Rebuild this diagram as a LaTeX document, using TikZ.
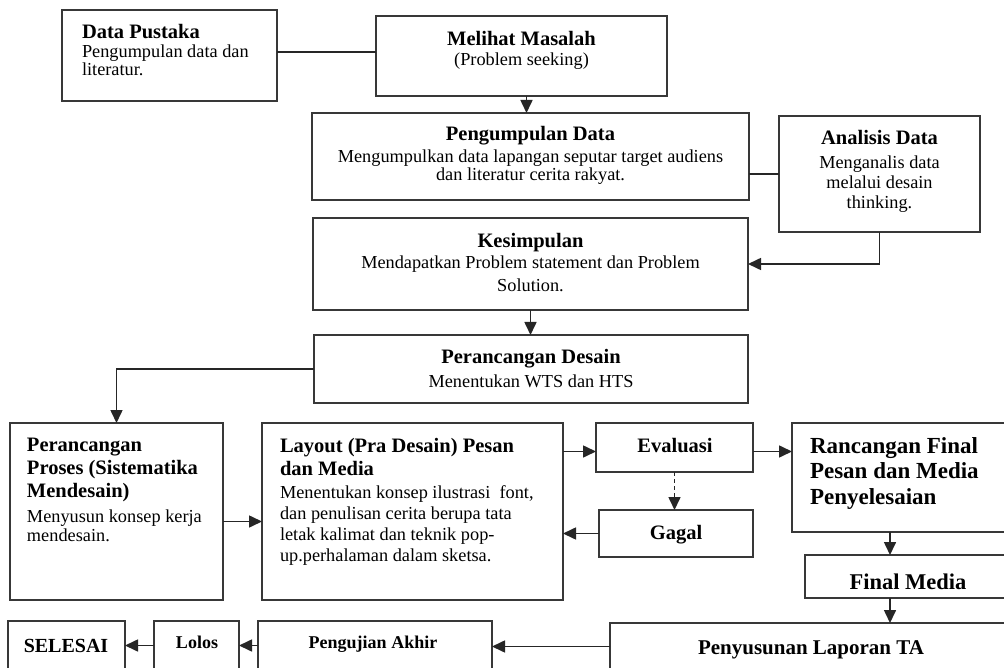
\documentclass[tikz,border=0pt]{standalone}
\usepackage{fontspec}
\setmainfont{Liberation Serif}
\usetikzlibrary{arrows.meta}
\tikzset{
  box/.style={draw=black!78, line width=1.3pt, rectangle, inner sep=0pt, outer sep=0pt, anchor=north west},
  conn/.style={draw=black!85, line width=1.6pt},
  arr/.style={conn, -{Triangle[length=13pt,width=12pt]}},
  ttl/.style={inner sep=0pt, outer sep=0pt, font=\fontsize{20.5}{23}\selectfont\bfseries},
  bdy/.style={inner sep=0pt, outer sep=0pt, font=\fontsize{18.3}{19}\selectfont},
}
\newcommand\bsk[1]{\fontsize{18.3}{#1}\selectfont}
\begin{document}
\begin{tikzpicture}[x=1pt,y=-1pt]
\fill[white] (0,0) rectangle (1004,668);
\useasboundingbox (0,0) rectangle (1004,668);

% boxes
\node[box, minimum width=215pt, minimum height=91pt] (dp) at (62,10) {};
\node[box, minimum width=291pt, minimum height=80pt] (mm) at (376,16) {};
\node[box, minimum width=437pt, minimum height=87pt] (pd) at (312,113) {};
\node[box, minimum width=201pt, minimum height=116pt] (ad) at (779,116) {};
\node[box, minimum width=435pt, minimum height=92pt] (ks) at (313,218) {};
\node[box, minimum width=434pt, minimum height=68pt] (pdes) at (314,335) {};
\node[box, minimum width=213pt, minimum height=177pt] (pp) at (10,423) {};
\node[box, minimum width=301pt, minimum height=177pt] (lay) at (262,423) {};
\node[box, minimum width=157pt, minimum height=49pt] (ev) at (596,423) {};
\node[box, minimum width=154pt, minimum height=47pt] (gg) at (599,510) {};
\node[box, minimum width=230pt, minimum height=109pt] (rf) at (792,423) {};
\node[box, minimum width=217pt, minimum height=43pt] (fm) at (805,555) {};
\node[box, minimum width=412pt, minimum height=47pt] (pl) at (610,623) {};
\node[box, minimum width=234pt, minimum height=49pt] (pa) at (258,621) {};
\node[box, minimum width=85pt, minimum height=49pt] (lo) at (154,621) {};
\node[box, minimum width=117pt, minimum height=49pt] (se) at (8,621) {};

% texts
\node[ttl, anchor=base west] (dpt) at (82,39) {Data Pustaka};
\node[bdy, anchor=north west, align=left, font=\bsk{17.5}] (dpb) at (82,45) {Pengumpulan data dan\\literatur.};

\node[ttl, anchor=base] (mmt) at (521.5,46) {Melihat Masalah};
\node[bdy, anchor=base] (mmb) at (521.5,66) {(Problem seeking)};

\node[ttl, anchor=base] (pdt) at (530.5,141) {Pengumpulan Data};
\node[bdy, anchor=north, align=center, font=\bsk{18.5}] (pdb) at (530.5,149.5) {Mengumpulkan data lapangan seputar target audiens\\dan literatur cerita rakyat.};

\node[ttl, anchor=base] (adt) at (879.5,145) {Analisis Data};
\node[bdy, anchor=north, align=center, font=\bsk{20}] (adb) at (879.5,155.5) {Menganalis data\\melalui desain\\thinking.};

\node[ttl, anchor=base] (kst) at (530.5,248) {Kesimpulan};
\node[bdy, anchor=north, align=center, font=\bsk{23}] (ksb) at (530.5,255.5) {Mendapatkan Problem statement dan Problem\\Solution.};

\node[ttl, anchor=base] (pdest) at (531,363) {Perancangan Desain};
\node[bdy, anchor=base] (pdesb) at (531,387) {Menentukan WTS dan HTS};

\node[ttl, anchor=north west, align=left] (ppt) at (27,438.5) {Perancangan\\Proses (Sistematika\\Mendesain)};
\node[bdy, anchor=north west, align=left, font=\bsk{19}] (ppb) at (27,509.5) {Menyusun konsep kerja\\mendesain.};

\node[ttl, anchor=north west, align=left] (layt) at (280,438) {Layout (Pra Desain) Pesan\\dan Media};
\node[bdy, anchor=north west, align=left, font=\bsk{21}] (layb) at (280,485.5) {Menentukan konsep ilustrasi~ font,\\dan penulisan cerita berupa tata\\letak kalimat dan teknik pop-\\up.perhalaman dalam sketsa.};

\node[ttl, anchor=base] (evt) at (675,452) {Evaluasi};
\node[ttl, anchor=base] (ggt) at (676,539) {Gagal};

\node[ttl, anchor=north west, align=left, font=\fontsize{23}{25.5}\selectfont\bfseries] (rft) at (810,437.5) {Rancangan Final\\Pesan dan Media\\Penyelesaian};
\node[ttl, anchor=base, font=\fontsize{22.5}{25}\selectfont\bfseries] (fmt) at (908,589) {Final Media};
\node[ttl, anchor=base, font=\fontsize{21}{24}\selectfont\bfseries] (plt) at (811,654) {Penyusunan Laporan TA};
\node[ttl, anchor=base, font=\fontsize{18}{21}\selectfont\bfseries] (pat) at (373,648) {Pengujian Akhir};
\node[ttl, anchor=base, font=\fontsize{18}{21}\selectfont\bfseries] (lot) at (197,648) {Lolos};
\node[ttl, anchor=base, font=\fontsize{20}{23}\selectfont\bfseries] (set) at (66,652) {SELESAI};

% connectors
\draw[conn] ([yshift=3.5pt]dp.east) -- ([yshift=3.5pt]dp.east -| mm.west);
\draw[arr] ([xshift=5pt]mm.south) -- ([xshift=5pt]mm.south |- pd.north);
\draw[conn] (ad.west) -- (ad.west -| pd.east);
\draw[arr] (ad.south) |- (ks.east);
\draw[arr] (ks.south) -- (ks.south |- pdes.north);
\draw[arr] (pdes.west) -| (pp.north);
\draw[arr] ([yshift=-10pt]pp.east) -- ([yshift=-10pt]pp.east -| lay.west);
\draw[arr] ([yshift=-4pt]ev.west -| lay.east) -- ([yshift=-4pt]ev.west);
\draw[arr] ([yshift=-4pt]ev.east) -- ([yshift=-4pt]ev.east -| rf.west);
\draw[arr, dash pattern=on 4pt off 3pt] (ev.south) -- (ev.south |- gg.north);
\draw[arr] (gg.west) -- (gg.west -| lay.east);
\draw[arr] ([xshift=98pt]rf.south west) -- ([xshift=98pt]rf.south west |- fm.north);
\draw[arr] ([xshift=85pt]fm.south west) -- ([xshift=85pt]fm.south west |- pl.north);
\draw[arr] (pl.west) -- (pl.west -| pa.east);
\draw[arr] (pa.west) -- (pa.west -| lo.east);
\draw[arr] (lo.west) -- (lo.west -| se.east);
\end{tikzpicture}
\end{document}
